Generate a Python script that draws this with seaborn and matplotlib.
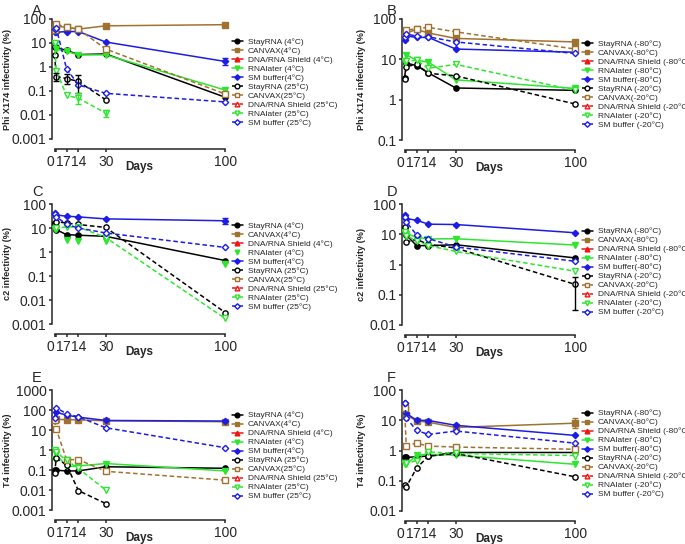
import numpy as np
import pandas as pd
import seaborn as sns

from matplotlib import pyplot as plt
from matplotlib.lines import Line2D
from matplotlib.ticker import FixedLocator, NullLocator

sns.set_style("ticks")
plt.rcParams["font.family"] = ["Liberation Sans", "DejaVu Sans"]
plt.rcParams["axes.linewidth"] = 1.1

nan = np.nan
days = [0, 1, 7, 14, 30, 100]
day_labels = ["0", "1", "7", "14", "30", "100"]

products = ["StayRNA", "CANVAX", "DNA/RNA Shield", "RNAlater", "SM buffer"]
colors = {"StayRNA": "#000000", "CANVAX": "#a0722f", "DNA/RNA Shield": "#f01414",
          "RNAlater": "#2ee62e", "SM buffer": "#1c1ce6"}
markers = {"StayRNA": "o", "CANVAX": "s", "DNA/RNA Shield": "^",
           "RNAlater": "v", "SM buffer": "D"}

warm_labels = ["StayRNA (4°C)", "CANVAX(4°C)", "DNA/RNA Shield (4°C)", "RNAlater (4°C)", "SM buffer(4°C)",
               "StayRNA (25°C)", "CANVAX(25°C)", "DNA/RNA Shield (25°C)", "RNAlater (25°C)", "SM buffer (25°C)"]
cold_labels = ["StayRNA (-80°C)", "CANVAX(-80°C)", "DNA/RNA Shield (-80°C)", "RNAlater (-80°C)", "SM buffer(-80°C)",
               "StayRNA (-20°C)", "CANVAX(-20°C)", "DNA/RNA Shield (-20°C)", "RNAlater (-20°C)", "SM buffer (-20°C)"]

# values per day (0, 1, 7, 14, 30, 100), infectivity in %
phix_4 = {"StayRNA": [7, 6.5, 4.9, 3.3, 3.5, 0.055],
          "CANVAX": [40, 50, 45, 38, 52, 58],
          "RNAlater": [9, 5.5, 4.5, 3.2, 3.2, 0.11],
          "SM buffer": [28, 28, 30, 30, 11, 1.7]}
phix_25 = {"StayRNA": [3.3, 0.4, 0.33, 0.25, 0.043, nan],
           "CANVAX": [35, 62, 45, 38, 5.6, 0.075],
           "RNAlater": [10, 0.7, 0.066, 0.05, 0.012, nan],
           "SM buffer": [40, 42, 0.85, 0.18, 0.08, 0.035]}
phix_m80 = {"StayRNA": [3.4, 8.1, 7, 4.6, 1.95, 1.7],
            "CANVAX": [35, 45, 55, 45, 33, 27],
            "RNAlater": [9, 13, 9.5, 8.5, 3.1, 1.9],
            "SM buffer": [30, 38, 35, 35, 18, 15]}
phix_m20 = {"StayRNA": [3.2, 6.6, 7.5, 4.5, 3.9, 0.78],
            "CANVAX": [40, 52, 58, 62, 48, 18],
            "RNAlater": [8.5, 9, 9.5, 6, 7.5, 1.7],
            "SM buffer": [35, 42, 38, 36, 27, 14]}

c2_4 = {"StayRNA": [16, 8.5, 5.3, 5, 4.5, 0.44],
        "RNAlater": [10, 9, 3.3, 2.8, 2.9, 0.32],
        "SM buffer": [42, 35, 31, 29, 24, 20]}
c2_25 = {"StayRNA": [15, 18.5, 16, 14, 10.5, 0.003],
         "RNAlater": [9, 10, 11, 11, 4, 0.0017],
         "SM buffer": [40, 30, 14, 10, 6.2, 1.55]}
c2_m80 = {"StayRNA": [16.5, 9.5, 4.2, 4.2, 4.5, 1.65],
          "RNAlater": [11, 10.5, 8, 7, 7.1, 4.4],
          "SM buffer": [42, 33, 29, 21.5, 21, 11.2]}
c2_m20 = {"StayRNA": [17, 5.5, 6.8, 4.6, 3.5, 0.22],
          "RNAlater": [12, 9, 6, 4.2, 2.7, 0.6],
          "SM buffer": [36, 26, 9.5, 7.2, 3.8, 1.28]}

t4_4 = {"StayRNA": [0.1, 0.097, 0.09, 0.09, 0.145, 0.122],
        "CANVAX": [30, 34, 33, 32, 29, 26],
        "RNAlater": [0.37, 0.6, 0.15, 0.16, 0.21, 0.09],
        "SM buffer": [35, 78, 55, 44, 30, 28]}
t4_25 = {"StayRNA": [0.067, 0.38, 0.18, 0.0093, 0.0021, nan],
         "CANVAX": [30, 11, 0.33, 0.33, 0.086, 0.031],
         "RNAlater": [1.0, 0.8, 0.3, 0.12, 0.0099, nan],
         "SM buffer": [40, 130, 65, 45, 13, 1.3]}
t4_m80 = {"StayRNA": [0.6, 0.59, 0.62, 0.66, 0.86, 0.86],
          "CANVAX": [25, 15, 9.6, 8.6, 5.8, 8.0],
          "RNAlater": [0.38, 0.35, 0.7, 0.75, 0.7, 0.35],
          "SM buffer": [38, 17, 10, 9.8, 6.8, 3.15]}
t4_m20 = {"StayRNA": [0.072, 0.063, 0.26, 0.65, 0.8, 0.135],
          "CANVAX": [25, 1.44, 1.75, 1.4, 1.3, 1.1],
          "RNAlater": [0.35, 0.38, 0.46, 0.9, 0.8, 0.68],
          "SM buffer": [38, 12, 4.6, 3.4, 4.4, 1.75]}

# (panel, product, solid?, day, low, high)
error_bars = [("A", "SM buffer", True, 100, 1.2, 2.4),
              ("A", "StayRNA", False, 1, 0.25, 0.55),
              ("A", "StayRNA", False, 7, 0.2, 0.5),
              ("A", "StayRNA", False, 14, 0.08, 0.45),
              ("A", "RNAlater", False, 14, 0.03, 0.08),
              ("A", "RNAlater", False, 30, 0.008, 0.016),
              ("C", "SM buffer", True, 100, 15, 25),
              ("D", "StayRNA", False, 100, 0.032, 0.4),
              ("F", "CANVAX", True, 100, 5.5, 11.5)]

panels = [
    ("A", "Phi X174 infectivity (%)", phix_4, phix_25, warm_labels, [0.001, 0.01, 0.1, 1, 10, 100]),
    ("B", "Phi X174 infectivity (%)", phix_m80, phix_m20, cold_labels, [0.1, 1, 10, 100]),
    ("C", "c2 infectivity (%)", c2_4, c2_25, warm_labels, [0.001, 0.01, 0.1, 1, 10, 100]),
    ("D", "c2 infectivity (%)", c2_m80, c2_m20, cold_labels, [0.01, 0.1, 1, 10, 100]),
    ("E", "T4 infectivity (%)", t4_4, t4_25, warm_labels, [0.001, 0.01, 0.1, 1, 10, 100, 1000]),
    ("F", "T4 infectivity (%)", t4_m80, t4_m20, cold_labels, [0.01, 0.1, 1, 10, 100]),
]
# RNAlater (4°C) in panel C is shown as markers only
markers_only = {("C", "RNAlater", True)}

fig = plt.figure(figsize=(6.85, 5.44), dpi=100)
W, H = 685, 544
# pixel layout: axes left, top, bottom; legend centre y; letter baseline y
boxes = {"A": (52, 19, 139, 83, 15), "B": (402, 19, 140, 85, 15),
         "C": (52, 204, 324, 267, 196), "D": (402, 204, 325, 272, 196),
         "E": (52, 390, 510, 456, 382), "F": (402, 390, 511, 454, 382)}

for letter, ylabel, solid_data, dashed_data, labels, yticks in panels:
    left, top, bottom, leg_y, let_y = boxes[letter]
    ax = fig.add_axes([left / W, 1 - bottom / H, 174 / W, (bottom - top) / H])
    handles = []
    for solid, data in [(True, solid_data), (False, dashed_data)]:
        for prod in products:
            ls = "-" if solid else (0, (3, 1.8))
            if (letter, prod, solid) in markers_only:
                ls = "none"
            face = colors[prod] if solid else "white"
            ms = 3.8 if markers[prod] != "D" else 3.2
            if prod in data:
                df = pd.DataFrame({"day": days, "value": data[prod]}).dropna()
                sns.lineplot(data=df, x="day", y="value", ax=ax, color=colors[prod],
                             linestyle=ls, linewidth=1.1, marker=markers[prod],
                             markersize=ms, markerfacecolor=face,
                             markeredgecolor=colors[prod], markeredgewidth=1.0,
                             errorbar=None, clip_on=False, zorder=3 if solid else 4)
            handles.append(Line2D([], [], color=colors[prod], linestyle=ls, linewidth=1.1,
                                  marker=markers[prod], markersize=ms - 0.4,
                                  markerfacecolor=face, markeredgecolor=colors[prod],
                                  markeredgewidth=1.0))

    for p, prod, solid, d, lo, hi in error_bars:
        if p != letter:
            continue
        src = solid_data if solid else dashed_data
        v = src[prod][days.index(d)]
        ax.errorbar([d], [v], yerr=[[v - lo], [hi - v]], fmt="none",
                    ecolor=colors[prod], elinewidth=1.0, capsize=2.5, capthick=1.0,
                    clip_on=False, zorder=5)

    ax.set_yscale("log")
    ax.set_ylim(yticks[0], yticks[-1])
    ax.set_xlim(-1.5, 100.5)
    ax.yaxis.set_major_locator(FixedLocator(yticks))
    ax.yaxis.set_minor_locator(NullLocator())
    ax.set_yticklabels([f"{t:g}" for t in yticks], fontweight="bold", fontsize=5.8)
    ax.set_xticks(days)
    ax.set_xticklabels(day_labels, fontweight="bold", fontsize=5.8)
    ax.tick_params(axis="both", direction="out", length=2.5, width=1.1, pad=1.5)
    sns.despine(ax=ax, offset={"bottom": 7.5, "left": 0})
    ax.spines["bottom"].set_bounds(0, 100)
    ax.set_xlabel("Days", fontweight="bold", fontsize=8.5)
    ax.xaxis.set_label_coords(0.5, -0.18)
    ax.xaxis.label.set_va("top")
    ax.set_ylabel(ylabel, fontweight="bold", fontsize=6.6)
    lab_x = -0.232 if left < 200 else -0.205
    ax.yaxis.set_label_coords(lab_x, 0.5)

    fig.text((left - 20 if left < 200 else left - 15) / W, 1 - let_y / H, letter,
             fontsize=10.5, va="baseline", ha="left")

    ax.legend(handles, labels, loc="center left",
              bbox_to_anchor=((left + 180) / W, 1 - leg_y / H), bbox_transform=fig.transFigure,
              frameon=False, fontsize=6, handlelength=1.3, handletextpad=0.6,
              labelspacing=0.14, borderpad=0, borderaxespad=0)

# "0" and "1" sit side by side as in the original ("01")
fig.canvas.draw()
for ax in fig.axes:
    xt = ax.get_xticklabels()
    xt[0].set_horizontalalignment("right")
    xt[1].set_horizontalalignment("left")

fig.savefig("out.png", dpi=100)
